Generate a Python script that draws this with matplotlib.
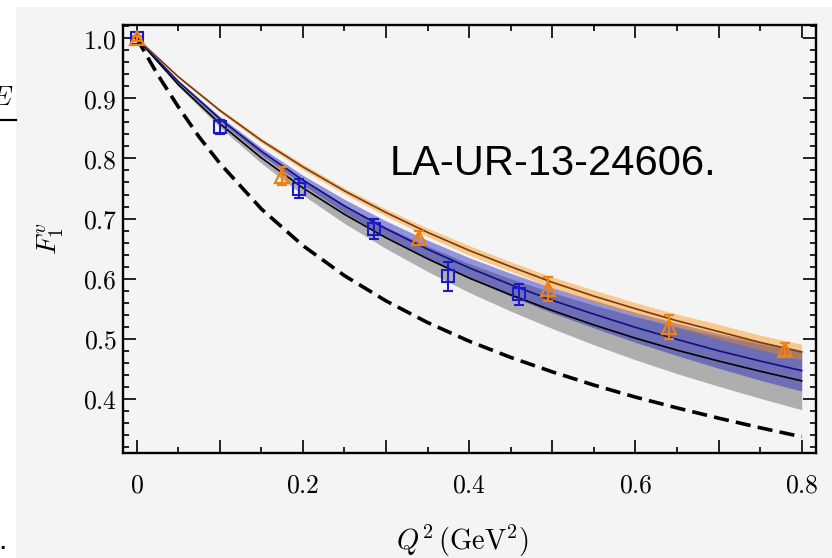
import matplotlib
matplotlib.use("Agg")
import matplotlib.pyplot as plt
from matplotlib.ticker import MultipleLocator, FuncFormatter
from matplotlib.patches import Rectangle

plt.rcParams["mathtext.fontset"] = "cm"

# Q^2 grid for the fit curves and bands (GeV^2)
q2 = [0.0, 0.05, 0.1, 0.15, 0.2, 0.25, 0.3, 0.35, 0.4, 0.45, 0.5, 0.55, 0.6, 0.65, 0.7, 0.75, 0.8]

# phenomenological curve (dashed), on a finer grid near the origin
pheno_q2 = [0.0, 0.025, 0.05, 0.075, 0.1, 0.15, 0.2, 0.25, 0.3, 0.35, 0.4, 0.45, 0.5, 0.55, 0.6,
            0.65, 0.7, 0.75, 0.8]
f_pheno = [1.000, 0.940, 0.886, 0.836, 0.792, 0.716, 0.655, 0.605, 0.563, 0.527, 0.496, 0.469,
           0.445, 0.423, 0.403, 0.385, 0.368, 0.352, 0.337]

# gray band fit
f_gray = [1.000, 0.923, 0.858, 0.801, 0.751, 0.707, 0.668, 0.633, 0.601, 0.573, 0.547, 0.523, 0.501, 0.481, 0.463, 0.446, 0.430]
gray_lo = [1.000, 0.920, 0.852, 0.792, 0.739, 0.692, 0.650, 0.612, 0.577, 0.546, 0.517, 0.490, 0.465, 0.442, 0.421, 0.401, 0.382]
gray_hi = [1.000, 0.926, 0.864, 0.810, 0.763, 0.722, 0.686, 0.654, 0.625, 0.600, 0.577, 0.556, 0.537, 0.520, 0.505, 0.491, 0.478]

# blue band fit
f_blue = [1.000, 0.928, 0.866, 0.812, 0.764, 0.721, 0.683, 0.649, 0.618, 0.590, 0.564, 0.541, 0.519, 0.499, 0.480, 0.463, 0.447]
blue_lo = [1.000, 0.926, 0.862, 0.806, 0.756, 0.710, 0.670, 0.634, 0.601, 0.571, 0.543, 0.518, 0.494, 0.472, 0.451, 0.431, 0.413]
blue_hi = [1.000, 0.930, 0.870, 0.818, 0.772, 0.732, 0.696, 0.664, 0.635, 0.609, 0.585, 0.564, 0.544, 0.526, 0.509, 0.495, 0.481]

# orange band fit
f_orange = [1.000, 0.936, 0.880, 0.830, 0.786, 0.746, 0.710, 0.677, 0.647, 0.620, 0.594, 0.571, 0.550, 0.530, 0.512, 0.494, 0.478]
orange_lo = [1.000, 0.934, 0.877, 0.826, 0.781, 0.741, 0.704, 0.670, 0.639, 0.612, 0.585, 0.561, 0.540, 0.519, 0.500, 0.482, 0.465]
orange_hi = [1.000, 0.938, 0.883, 0.834, 0.791, 0.751, 0.716, 0.684, 0.655, 0.628, 0.603, 0.581, 0.560, 0.541, 0.524, 0.506, 0.491]

# lattice points, squares
sq_q2 = [0.0, 0.1, 0.195, 0.285, 0.375, 0.46]
sq_f = [1.0, 0.852, 0.750, 0.683, 0.604, 0.574]
sq_err = [0.004, 0.012, 0.016, 0.017, 0.024, 0.017]

# lattice points, triangles
tr_q2 = [0.0, 0.175, 0.34, 0.495, 0.64, 0.78]
tr_f = [1.0, 0.770, 0.668, 0.583, 0.519, 0.482]
tr_err = [0.004, 0.015, 0.012, 0.020, 0.020, 0.011]

W, H = 832, 558
fig = plt.figure(figsize=(W / 100, H / 100), dpi=100)
fig.patch.set_facecolor("white")
fig.patches.append(Rectangle((16 / W, 0), 1, 1 - 7 / H, transform=fig.transFigure,
                             facecolor="#f4f4f4", edgecolor="none", zorder=-10))

ax = fig.add_axes([122.7 / W, 1 - 453 / H, (816 - 122.7) / W, (453 - 25) / H])
ax.set_facecolor("none")

ax.fill_between(q2, gray_lo, gray_hi, color="#808080", alpha=0.6, lw=0)
ax.fill_between(q2, blue_lo, blue_hi, color="#2020c0", alpha=0.45, lw=0)
ax.fill_between(q2, orange_lo, orange_hi, color="#ff8c00", alpha=0.42, lw=0)

ax.plot(q2, f_gray, color="black", lw=1.2)
ax.plot(q2, f_blue, color="#101080", lw=1.2)
ax.plot(q2, f_orange, color="#7a3a10", lw=1.2)
ax.plot(pheno_q2, f_pheno, color="black", lw=2.6, ls=(0, (4.2, 2.0)), dash_capstyle="butt")

ax.errorbar(sq_q2, sq_f, yerr=sq_err, fmt="s", ms=8.5, mfc="none", mec="#1a1ac8",
            mew=1.5, color="#1a1ac8", elinewidth=1.5, capsize=3.8, capthick=1.5, zorder=5)
ax.errorbar(tr_q2, tr_f, yerr=tr_err, fmt="^", ms=10, mfc="none", mec="#f08010",
            mew=1.6, color="#f08010", elinewidth=1.5, capsize=3.8, capthick=1.5, zorder=5)

ax.set_xlim(-0.0168, 0.8172)
ax.set_ylim(0.310, 1.022)

ax.xaxis.set_major_locator(MultipleLocator(0.1))
ax.xaxis.set_minor_locator(MultipleLocator(0.05))
ax.yaxis.set_major_locator(MultipleLocator(0.1))
ax.yaxis.set_minor_locator(MultipleLocator(0.02))


def xfmt(v, pos):
    k = int(round(v * 10))
    if k % 2:
        return ""
    return "$0$" if k == 0 else f"${v:.1f}$"


ax.xaxis.set_major_formatter(FuncFormatter(xfmt))
ax.yaxis.set_major_formatter(FuncFormatter(lambda v, pos: f"${v:.1f}$"))

ax.tick_params(which="both", direction="in", top=True, right=True, width=1.2)
ax.tick_params(which="major", length=9.5, labelsize=18.5)
ax.tick_params(which="minor", length=4.5)
ax.tick_params(axis="x", pad=14)
ax.tick_params(axis="y", pad=4)
for s in ax.spines.values():
    s.set_linewidth(1.7)

ax.set_xlabel(r"$Q^2\,(\mathrm{GeV}^2)$", fontsize=20.5)
ax.xaxis.set_label_coords(0.49, -0.163)
ax.set_ylabel(r"$F_1^v$", fontsize=20)
ax.yaxis.set_label_coords(-0.081, 0.5)

fig.text(390 / W, 1 - 175 / H, "LA-UR-13-24606.", fontsize=30, family="Liberation Sans",
         va="baseline", ha="left")

# slide fragments at the left edge
fig.text(13 / W, 1 - 97 / H, "$E$", fontsize=20, ha="right", va="center")
fig.add_artist(plt.Line2D([0, 16 / W], [1 - 120 / H, 1 - 120 / H], color="black", lw=1.6,
                          transform=fig.transFigure))
fig.text(-2 / W, 1 - 549 / H, ".", fontsize=22, family="Liberation Sans", ha="left", va="baseline")

fig.savefig("out.png", dpi=100)
